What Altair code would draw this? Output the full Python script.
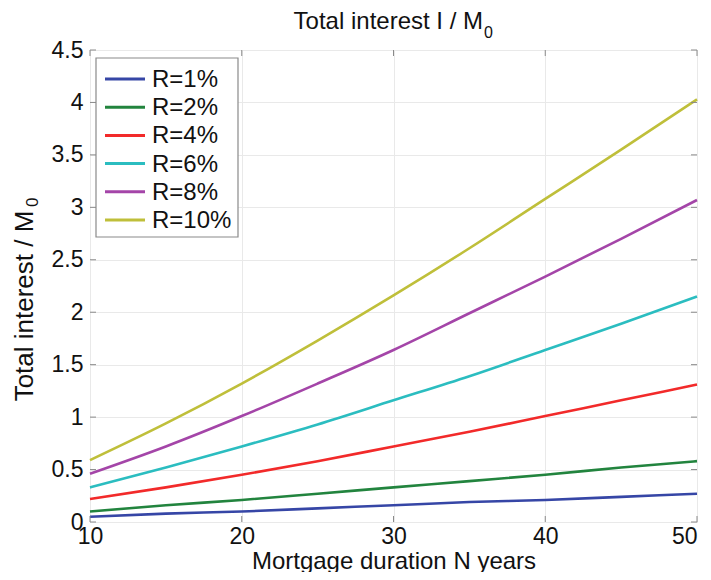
import altair as alt
import pandas as pd

# ---- data ----
years = [10, 15, 20, 25, 30, 35, 40, 45, 50]
series_names = ["R=1%", "R=2%", "R=4%", "R=6%", "R=8%", "R=10%"]
r1 = [0.05, 0.08, 0.10, 0.13, 0.16, 0.19, 0.21, 0.24, 0.27]
r2 = [0.10, 0.16, 0.21, 0.27, 0.33, 0.39, 0.45, 0.52, 0.58]
r4 = [0.22, 0.33, 0.45, 0.58, 0.72, 0.86, 1.01, 1.16, 1.31]
r6 = [0.33, 0.52, 0.72, 0.93, 1.16, 1.39, 1.64, 1.89, 2.15]
r8 = [0.46, 0.72, 1.01, 1.32, 1.64, 1.99, 2.34, 2.70, 3.07]
r10 = [0.59, 0.94, 1.32, 1.73, 2.16, 2.61, 3.08, 3.55, 4.03]
colors = ["#3646a6", "#22843e", "#f22a2a", "#2bbdc0", "#a445a8", "#bfbf3a"]
x_ticks = [10, 20, 30, 40, 50]
y_ticks = [0, 0.5, 1, 1.5, 2, 2.5, 3, 3.5, 4, 4.5]

W, H = 607, 472
FONT = "Liberation Sans"
BOX = "#8a8a8a"

rows = []
for name, vals in zip(series_names, [r1, r2, r4, r6, r8, r10]):
    for n, v in zip(years, vals):
        rows.append({"N": n, "I": v, "R": name})
df = pd.DataFrame(rows)
leg_df = pd.DataFrame({"R": series_names, "idx": list(range(len(series_names)))})

xscale = alt.Scale(domain=[10, 50], nice=False, zero=False)
yscale = alt.Scale(domain=[0, 4.5], nice=False)
cscale = alt.Scale(domain=series_names, range=colors)

lines = alt.Chart(df).mark_line(strokeWidth=2.6, interpolate="monotone").encode(
    x=alt.X("N:Q", scale=xscale,
            axis=alt.Axis(values=x_ticks, title="Mortgage duration N years",
                          titleFontSize=24, titleFont=FONT, titleFontWeight="normal",
                          titleColor="#111", labelFontSize=23, labelFont=FONT,
                          labelColor="#111", labelPadding=3, titlePadding=1,
                          labelAlign=alt.ExprRef("datum.value == 50 ? 'right' : 'center'"),
                          tickSize=0, domain=False, grid=True, gridColor="#e9e9e9",
                          labelFlush=False)),
    y=alt.Y("I:Q", scale=yscale,
            axis=alt.Axis(values=y_ticks, title=None, labelFontSize=23, labelFont=FONT,
                          labelColor="#111", labelPadding=7, tickSize=0, domain=False,
                          grid=True, gridColor="#e9e9e9",
                          labelExpr="'' + datum.value", labelFlush=False)),
    color=alt.Color("R:N", sort=series_names, scale=cscale, legend=None),
)

ytick_df = pd.DataFrame({"v": y_ticks})
xtick_df = pd.DataFrame({"v": x_ticks})

yt_left = alt.Chart(ytick_df).mark_rule(color=BOX, strokeWidth=1).encode(
    y=alt.Y("v:Q", scale=yscale), x=alt.value(0), x2=alt.value(6))
yt_right = alt.Chart(ytick_df).mark_rule(color=BOX, strokeWidth=1).encode(
    y=alt.Y("v:Q", scale=yscale), x=alt.value(W - 6), x2=alt.value(W))
xt_bot = alt.Chart(xtick_df).mark_rule(color=BOX, strokeWidth=1).encode(
    x=alt.X("v:Q", scale=xscale), y=alt.value(H), y2=alt.value(H - 6))
xt_top = alt.Chart(xtick_df).mark_rule(color=BOX, strokeWidth=1).encode(
    x=alt.X("v:Q", scale=xscale), y=alt.value(0), y2=alt.value(6))

# ---- legend box (drawn as marks) ----
base = alt.Chart(pd.DataFrame({"a": [0]}))
leg_box = base.mark_rect(fill="white", stroke=BOX, strokeWidth=1.2).encode(
    x=alt.value(6), x2=alt.value(148), y=alt.value(8), y2=alt.value(187))
leg_base = alt.Chart(leg_df).transform_calculate(ly="29 + datum.idx * 28.2")
leg_lines = leg_base.mark_rule(strokeWidth=3).encode(
    x=alt.value(15), x2=alt.value(55),
    y=alt.Y("ly:Q", scale=None, axis=None),
    color=alt.Color("R:N", scale=cscale, legend=None))
leg_text = leg_base.mark_text(font=FONT, fontSize=24, align="left", baseline="middle",
                              color="#111", dy=1).encode(
    x=alt.value(62), y=alt.Y("ly:Q", scale=None, axis=None), text="R:N")

title_main = base.mark_text(text="Total interest I / M", font=FONT, fontSize=24,
                            align="right", baseline="alphabetic", color="#111").encode(
    x=alt.value(393), y=alt.value(-21))
title_sub = base.mark_text(text="0", font=FONT, fontSize=16,
                           align="left", baseline="alphabetic", color="#111").encode(
    x=alt.value(394), y=alt.value(-12))
ytitle_main = base.mark_text(text="Total interest / M", font=FONT, fontSize=26, angle=270,
                             align="center", baseline="middle", color="#111").encode(
    x=alt.value(-65), y=alt.value(256))
ytitle_sub = base.mark_text(text="0", font=FONT, fontSize=17, angle=270,
                            align="left", baseline="middle", color="#111").encode(
    x=alt.value(-57), y=alt.value(157))

chart = alt.layer(
    lines, yt_left, yt_right, xt_bot, xt_top,
    leg_box, leg_lines, leg_text,
    title_main, title_sub, ytitle_main, ytitle_sub
).properties(
    width=W, height=H,
    autosize=alt.AutoSizeParams(type="none"),
    padding={"left": 82, "top": 42, "right": 6, "bottom": 50},
).configure_view(stroke=BOX, strokeWidth=1.2).configure(background="white")

chart.save("out.html", embed_options={"renderer": "svg", "actions": False})
